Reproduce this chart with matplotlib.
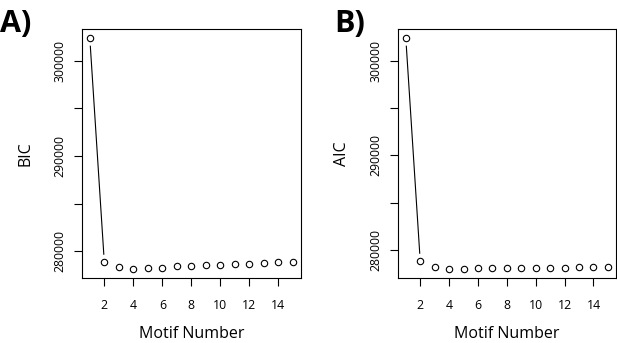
import numpy as np
import matplotlib
matplotlib.use('Agg')
import matplotlib.pyplot as plt

plt.rcParams['font.family'] = ['Open Sans', 'DejaVu Sans']

# values
motif = list(range(1, 16))
bic = [302350, 278850, 278325, 278160, 278260, 278290, 278400, 278430,
       278535, 278570, 278640, 278710, 278780, 278850, 278920]
aic = [302360, 278800, 278200, 278000, 278000, 278030, 278065, 278065,
       278100, 278100, 278135, 278135, 278170, 278170, 278200]

panel_tags = ['A)', 'B)']
ylabels = ['BIC', 'AIC']
xticks = [2, 4, 6, 8, 10, 12, 14]
yticks = [280000, 285000, 290000, 295000, 300000]
ytick_labels = ['280000', '', '290000', '', '300000']


def r_limits(v):
    # R pads the data range by 4% on both sides
    lo, hi = min(v), max(v)
    pad = 0.04 * (hi - lo)
    return lo - pad, hi + pad


def r_type_b(ax, x, y, gap=8.0):
    # R's type="b": segments between points, cut back from each point
    pts = ax.transData.transform(np.column_stack([x, y]))
    inv = ax.transData.inverted()
    for p0, p1 in zip(pts[:-1], pts[1:]):
        d = np.hypot(*(p1 - p0))
        if d <= 2 * gap:
            continue
        u = (p1 - p0) / d
        seg = inv.transform(np.array([p0 + u * gap, p1 - u * gap]))
        ax.plot(seg[:, 0], seg[:, 1], color='black', lw=0.8)
    ax.plot(x, y, 'o', mfc='white', mec='black', ms=4.6, mew=0.8)


fig = plt.figure(figsize=(6.17, 3.43), dpi=100)
positions = [[0.1324, 0.1895, 0.3554, 0.726], [0.6446, 0.1895, 0.3538, 0.726]]
tag_x = [0.0, 0.541]

for pos, vals, ylab, tag, tx in zip(positions, [bic, aic], ylabels, panel_tags, tag_x):
    ax = fig.add_axes(pos)
    ax.set_xlim(r_limits(motif))
    ax.set_ylim(r_limits(vals))
    r_type_b(ax, motif, vals)

    ax.set_xticks(xticks)
    ax.set_yticks(yticks)
    ax.set_yticklabels(ytick_labels, rotation=90, va='center')
    ax.tick_params(direction='out', length=6, width=0.8, labelsize=8.8)
    ax.tick_params(axis='x', pad=9)
    ax.tick_params(axis='y', pad=5)
    for s in ax.spines.values():
        s.set_linewidth(0.8)

    ax.set_xlabel('Motif Number', fontsize=11.5, labelpad=10)
    ax.set_ylabel(ylab, fontsize=11.5, labelpad=14)

    fig.text(tx, 0.975, tag, fontsize=22, fontweight='bold', va='top', ha='left')

fig.savefig('out.png', dpi=100)
